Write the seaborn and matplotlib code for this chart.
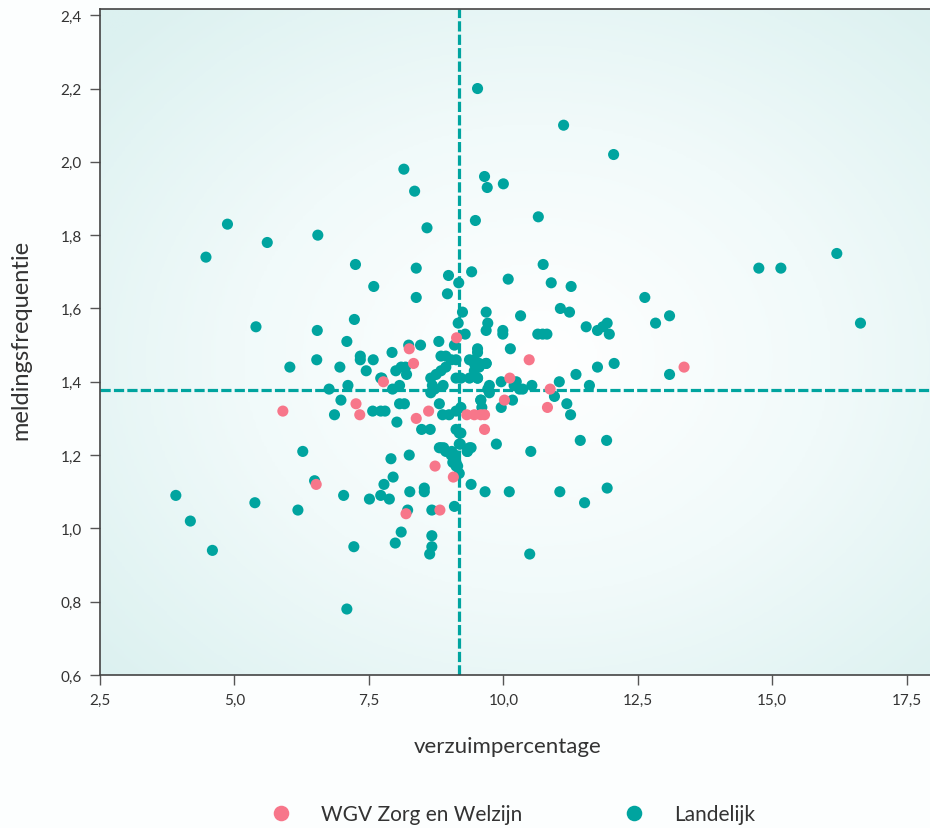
import numpy as np
import pandas as pd
import matplotlib
matplotlib.use("Agg")
import matplotlib.pyplot as plt
import seaborn as sns
from matplotlib.colors import LinearSegmentedColormap
from matplotlib.ticker import FuncFormatter, MultipleLocator

# data: verzuimpercentage (x) and meldingsfrequentie (y)
wgv_x = [5.90, 6.52, 7.26, 7.33, 7.77, 8.25, 8.33, 8.38, 8.61, 8.73, 8.19, 8.82, 9.07,
         9.13, 9.32, 9.46, 9.58, 9.65, 9.65, 10.02, 10.12, 10.48, 10.82, 10.87, 13.36]
wgv_y = [1.32, 1.12, 1.34, 1.31, 1.40, 1.49, 1.45, 1.30, 1.32, 1.17, 1.04, 1.05, 1.14,
         1.52, 1.31, 1.31, 1.31, 1.31, 1.27, 1.35, 1.41, 1.46, 1.33, 1.38, 1.44]

land_x = [9.52, 11.12, 12.05, 8.15, 9.65, 9.70, 10.00, 8.35, 10.65, 9.48, 8.58, 6.55,
          4.47, 4.87, 5.61, 7.25, 8.38, 8.98, 9.41, 10.09, 10.74, 16.20, 14.75, 15.16,
          7.59, 8.38, 8.96, 9.17, 10.89, 11.26, 6.54, 7.23, 7.09, 6.53, 6.96, 7.34, 7.34,
          7.58, 7.45, 7.72, 7.93, 9.24, 9.16, 9.29, 9.68, 9.71, 9.68, 8.24, 8.46, 8.80,
          9.09, 8.00, 8.10, 8.18, 8.20, 7.74, 7.11, 7.94, 8.07, 6.98, 6.76, 6.86, 7.57,
          7.72, 7.80, 8.02, 8.07, 8.16, 8.81, 8.48, 8.64, 7.91, 8.25, 6.27, 8.81, 8.89,
          9.04, 9.10, 9.12, 9.15, 9.18, 9.20, 9.37, 9.33, 9.87, 10.51, 11.43, 11.92,
          8.84, 8.93, 9.03, 9.12, 9.37, 9.46, 9.55, 9.68, 8.93, 8.84, 8.75, 8.65, 8.68,
          8.72, 8.65, 8.88, 9.12, 9.21, 9.37, 9.52, 9.71, 9.58, 8.87, 8.99, 9.12, 9.21,
          9.12, 9.21, 9.18, 9.33, 9.40, 8.84, 8.93, 9.03, 9.06, 9.12, 9.18, 11.06, 11.23,
          10.32, 9.99, 9.99, 10.64, 10.73, 10.81, 11.54, 11.75, 11.85, 11.93, 11.97,
          10.13, 9.52, 9.46, 9.55, 9.68, 9.52, 9.46, 9.52, 12.06, 11.75, 11.35, 9.96,
          10.24, 10.20, 10.30, 10.36, 10.53, 11.04, 9.74, 9.74, 10.95, 11.60, 9.58,
          10.17, 9.96, 11.18, 11.25, 9.60, 12.63, 12.83, 13.09, 13.09, 16.64, 6.49, 7.03,
          7.51, 7.72, 7.88, 7.78, 7.95, 8.26, 8.53, 8.53, 9.40, 9.66, 10.11, 11.05, 11.51,
          11.93, 8.22, 8.67, 9.09, 8.10, 7.99, 8.67, 8.67, 8.63, 7.22, 10.49, 7.09, 3.91,
          4.18, 4.59, 5.38, 6.18, 5.40, 6.03]
land_y = [2.20, 2.10, 2.02, 1.98, 1.96, 1.93, 1.94, 1.92, 1.85, 1.84, 1.82, 1.80,
          1.74, 1.83, 1.78, 1.72, 1.71, 1.69, 1.70, 1.68, 1.72, 1.75, 1.71, 1.71,
          1.66, 1.63, 1.64, 1.67, 1.67, 1.66, 1.54, 1.57, 1.51, 1.46, 1.44, 1.47, 1.46,
          1.46, 1.43, 1.41, 1.48, 1.59, 1.56, 1.53, 1.59, 1.56, 1.54, 1.50, 1.50, 1.51,
          1.50, 1.43, 1.44, 1.44, 1.42, 1.41, 1.39, 1.38, 1.39, 1.35, 1.38, 1.31, 1.32,
          1.32, 1.32, 1.29, 1.34, 1.34, 1.34, 1.27, 1.27, 1.19, 1.20, 1.21, 1.22, 1.22,
          1.21, 1.20, 1.18, 1.17, 1.26, 1.23, 1.22, 1.21, 1.23, 1.21, 1.24, 1.24,
          1.47, 1.47, 1.46, 1.46, 1.46, 1.45, 1.44, 1.45, 1.44, 1.43, 1.42, 1.41, 1.39,
          1.38, 1.37, 1.39, 1.41, 1.41, 1.41, 1.41, 1.38, 1.35, 1.31, 1.31, 1.32, 1.33,
          1.27, 1.26, 1.23, 1.21, 1.22, 1.22, 1.21, 1.20, 1.18, 1.17, 1.15, 1.60, 1.59,
          1.58, 1.54, 1.53, 1.53, 1.53, 1.53, 1.55, 1.54, 1.55, 1.56, 1.53,
          1.49, 1.49, 1.46, 1.45, 1.45, 1.41, 1.43, 1.48, 1.45, 1.44, 1.42, 1.40,
          1.40, 1.39, 1.38, 1.38, 1.39, 1.40, 1.39, 1.37, 1.36, 1.39, 1.35,
          1.35, 1.33, 1.34, 1.31, 1.33, 1.63, 1.56, 1.58, 1.42, 1.56, 1.13, 1.09,
          1.08, 1.09, 1.08, 1.12, 1.14, 1.10, 1.11, 1.10, 1.12, 1.10, 1.10, 1.10, 1.07,
          1.11, 1.05, 1.05, 1.06, 0.99, 0.96, 0.98, 0.95, 0.93, 0.95, 0.93, 0.78, 1.09,
          1.02, 0.94, 1.07, 1.05, 1.55, 1.44]

groups = ["WGV Zorg en Welzijn", "Landelijk"]
colors = ["#f7768a", "#00a49f"]
mean_x = 9.18
mean_y = 1.378

df = pd.concat([
    pd.DataFrame({"x": land_x, "y": land_y, "groep": groups[1]}),
    pd.DataFrame({"x": wgv_x, "y": wgv_y, "groep": groups[0]}),
], ignore_index=True)

sns.set_style("ticks")
plt.rcParams["font.family"] = ["Lato", "DejaVu Sans"]

fig = plt.figure(figsize=(9.3, 8.29), dpi=100)
fig.patch.set_facecolor("#fcfefe")
ax = fig.add_axes([100 / 930, 1 - 676 / 829, 832 / 930, 666 / 829])

xlim = (2.5, 17.97)
ylim = (0.6, 2.417)

# radial gradient background
gx, gy = np.meshgrid(np.linspace(-1, 1, 300), np.linspace(-1, 1, 300))
r = np.sqrt((gx - 0.05) ** 2 + (gy + 0.05) ** 2) / np.sqrt(2)
cmap = LinearSegmentedColormap.from_list("bg", ["#ffffff", "#f1fafa", "#dcf1f0"])
ax.imshow(r, extent=(*xlim, *ylim), origin="lower", aspect="auto",
          cmap=cmap, vmin=0, vmax=1.0, zorder=0)

ax.axvline(mean_x, color=colors[1], lw=2.3, dashes=(3.2, 1.0), zorder=1)
ax.axhline(mean_y, color=colors[1], lw=2.3, dashes=(3.2, 1.0), zorder=1)

sns.scatterplot(data=df, x="x", y="y", hue="groep", hue_order=groups,
                palette=dict(zip(groups, colors)), s=64, linewidth=0,
                alpha=1, ax=ax, zorder=3)

ax.set_xlim(*xlim)
ax.set_ylim(*ylim)
ax.xaxis.set_major_locator(MultipleLocator(2.5))
ax.yaxis.set_major_locator(MultipleLocator(0.2))
fmt = FuncFormatter(lambda v, p: f"{v:.1f}".replace(".", ","))
ax.xaxis.set_major_formatter(fmt)
ax.yaxis.set_major_formatter(fmt)
ax.tick_params(axis="both", length=7, width=1, color="#555555",
               labelsize=11, labelcolor="#333333", pad=6)
for s in ["left", "bottom", "top"]:
    ax.spines[s].set_color("#444444")
    ax.spines[s].set_linewidth(1.2)
ax.spines["right"].set_visible(False)

ax.set_xlabel("verzuimpercentage", fontsize=16, color="#333333")
ax.set_ylabel("meldingsfrequentie", fontsize=17, color="#333333")
ax.xaxis.set_label_coords(0.49, -0.092)
ax.yaxis.set_label_coords(-0.082, 0.505)

sns.move_legend(ax, "center", bbox_to_anchor=(0.49, -0.209), ncol=2,
                frameon=False, title=None, fontsize=15, columnspacing=4.4,
                handletextpad=0.9, markerscale=1.4, labelcolor="#333333")

fig.savefig("out.png", dpi=100, facecolor=fig.get_facecolor())
